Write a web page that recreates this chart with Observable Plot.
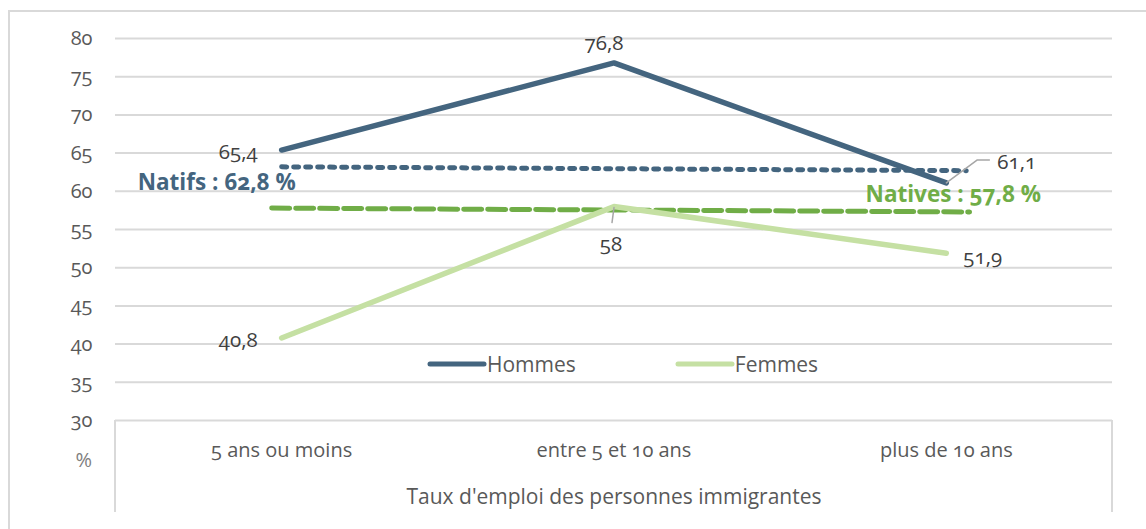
<!DOCTYPE html>
<html>
<head>
<meta charset="utf-8">
<script src="https://cdn.jsdelivr.net/npm/d3@7"></script>
<script src="https://cdn.jsdelivr.net/npm/@observablehq/plot@0.6"></script>
<style>
  html, body { margin: 0; padding: 0; background: #ffffff; }
  body { width: 1146px; height: 529px; overflow: hidden; position: relative; font-family: "Open Sans", sans-serif; }
  #outer { position: absolute; left: 8px; top: 10px; width: 1160px; height: 560px; border: 2px solid #d9d9d9; box-sizing: border-box; }
  #chart { position: absolute; left: 0; top: 0; }
  #catbox { position: absolute; left: 114px; top: 420px; width: 999px; height: 92px; border-left: 2px solid #d9d9d9; border-right: 2px solid #d9d9d9; box-sizing: border-box; }
  #legend { position: absolute; top: 350px; left: 427px; font-size: 21px; color: #595959; display: flex; align-items: center; white-space: nowrap; }
  #legend .item { display: flex; align-items: center; }
  #legend svg { display: block; }
  svg text { font-variant-numeric: oldstyle-nums; }
</style>
</head>
<body>
<div id="outer"></div>
<div id="catbox"></div>
<div id="chart"></div>
<div id="legend"></div>
<script>
// ---- data ----
const categories = ["5 ans ou moins", "entre 5 et 10 ans", "plus de 10 ans"];
const hommes = [65.4, 76.8, 61.1];
const femmes = [40.8, 58, 51.9];
const seriesNames = ["Hommes", "Femmes"];
const yTicks = [30, 35, 40, 45, 50, 55, 60, 65, 70, 75, 80];
const natifsX = [0.5, 2.56];
const natifsY = [63.2, 62.7];
const nativesX = [0.47, 2.57];
const nativesY = [57.8, 57.3];
const natifsLabel = "Natifs : 62,8 %";
const nativesLabel = "Natives : 57,8 %";
const axisTitle = "Taux d'emploi des personnes immigrantes";
const unitLabel = "%";

// ---- geometry / styles ----
const W = 1146, H = 529;
const mL = 115, mR = 34, mT = 38, mB = 109;
const colH = "#44657f", colF = "#c5e0a3", colNatives = "#70ad47", grid = "#d9d9d9";
const kx = (W - mL - mR) / 3, ky = (H - mT - mB) / (80 - 30);
const fmt = v => String(v).replace(".", ",");

const rowsH = hommes.map((v, i) => ({x: i + 0.5, y: v, label: fmt(v)}));
const rowsF = femmes.map((v, i) => ({x: i + 0.5, y: v, label: fmt(v)}));
const natifs = natifsX.map((x, i) => ({x, y: natifsY[i]}));
const natives = nativesX.map((x, i) => ({x, y: nativesY[i]}));

// leader lines built from the data point plus pixel offsets
function leader(pt, offs) {
  return offs.map(([dx, dy]) => ({x: pt.x + dx / kx, y: pt.y - dy / ky}));
}
const leader611 = leader(rowsH[2], [[0, 0], [31, -23], [43, -23]]);
const leader58 = leader(rowsF[1], [[0, 1], [-2, 16]]);

// label offsets per point (pixels)
const offH = [{dx: -24, dy: 2, a: "end"}, {dx: -10, dy: -20, a: "middle"}, {dx: 51, dy: -20, a: "start"}];
const offF = [{dx: -24, dy: 2, a: "end"}, {dx: -3, dy: 38, a: "middle"}, {dx: 17, dy: 4, a: "start"}];

const labelMarks = (rows, offs) => rows.map((r, i) => Plot.text([r], {
  x: "x", y: "y", text: "label", dx: offs[i].dx, dy: offs[i].dy, textAnchor: offs[i].a,
  fill: "#404040", fontSize: 20.5
}));

const chart = Plot.plot({
  width: W, height: H,
  marginLeft: mL, marginRight: mR, marginTop: mT, marginBottom: mB,
  style: {background: "transparent", fontFamily: "'Open Sans', sans-serif", fontSize: "20px", color: "#595959", overflow: "visible"},
  x: {domain: [0, 3]},
  y: {domain: [30, 80]},
  marks: [
    Plot.gridY(yTicks, {stroke: grid, strokeOpacity: 1, strokeWidth: 2}),
    Plot.axisY(yTicks, {tickSize: 0, tickPadding: 23, label: null, fontSize: 20, fill: "#595959"}),
    Plot.axisX([0.5, 1.5, 2.5], {tickSize: 0, tickPadding: 22, label: null, fontSize: 20, fill: "#595959",
      tickFormat: t => categories[Math.floor(t)]}),
    Plot.text([axisTitle], {frameAnchor: "bottom", dy: 83, fontSize: 21, fill: "#595959"}),
    Plot.text([unitLabel], {frameAnchor: "bottom-left", dx: -40, dy: 46, fontSize: 20, fill: "#808080"}),
    // national averages
    Plot.line(natifs, {x: "x", y: "y", stroke: colH, strokeWidth: 5, strokeDasharray: "5 7"}),
    Plot.line(natives, {x: "x", y: "y", stroke: colNatives, strokeWidth: 5, strokeDasharray: "18 6"}),
    // series
    Plot.line(rowsF, {x: "x", y: "y", stroke: colF, strokeWidth: 5.5, strokeLinecap: "round", strokeLinejoin: "round"}),
    Plot.line(rowsH, {x: "x", y: "y", stroke: colH, strokeWidth: 5.5, strokeLinecap: "round", strokeLinejoin: "round"}),
    // leaders
    Plot.line(leader611, {x: "x", y: "y", stroke: "#a6a6a6", strokeWidth: 1.5}),
    Plot.line(leader58, {x: "x", y: "y", stroke: "#a6a6a6", strokeWidth: 1.5}),
    ...labelMarks(rowsH, offH),
    ...labelMarks(rowsF, offF),
    Plot.text([natifs[0]], {x: "x", y: "y", text: () => natifsLabel, dx: 14, dy: 16, textAnchor: "end",
      fill: colH, fontWeight: "bold", fontSize: 22.5}),
    Plot.text([natives[1]], {x: "x", y: "y", text: () => nativesLabel, dx: -104, dy: -17, textAnchor: "start",
      fill: colNatives, fontWeight: "bold", fontSize: 22.5})
  ]
});
document.getElementById("chart").appendChild(chart);

// legend (inside the plot area, as in the reference)
const legend = document.getElementById("legend");
const legendCols = [colH, colF];
const gaps = [0, 99];
seriesNames.forEach((name, i) => {
  const item = document.createElement("div");
  item.className = "item";
  item.style.marginLeft = gaps[i] + "px";
  item.innerHTML = `<svg width="60" height="10"><line x1="3" y1="5" x2="57" y2="5" stroke="${legendCols[i]}" stroke-width="5" stroke-linecap="round"/></svg><span>${name}</span>`;
  legend.appendChild(item);
});
</script>
</body>
</html>
